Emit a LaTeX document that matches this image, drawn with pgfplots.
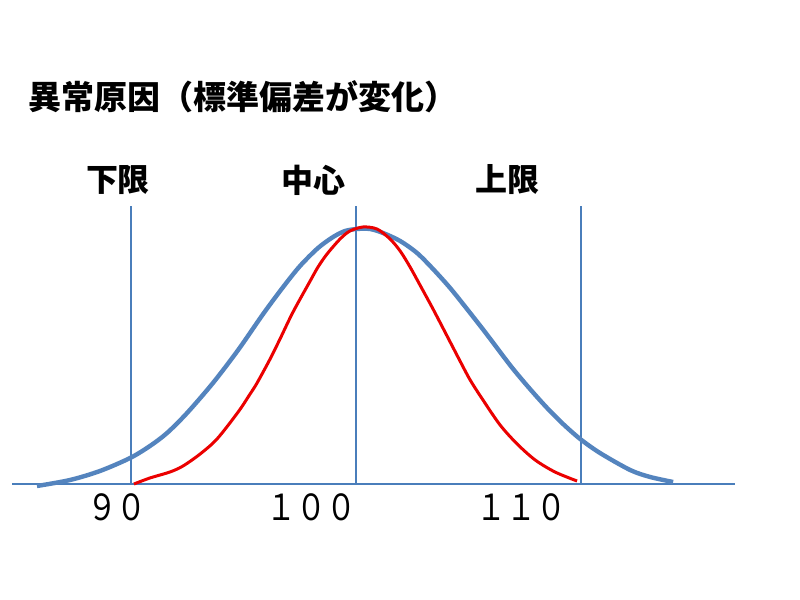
\documentclass[border=0pt]{standalone}
\usepackage{pgfplots}
\pgfplotsset{compat=1.18}
\usepackage{fontspec}
\newfontfamily\cjk{Noto Sans CJK JP}
\definecolor{lineblue}{RGB}{74,126,187}
\definecolor{curveblue}{RGB}{84,132,190}
\definecolor{curvered}{RGB}{235,0,0}
\begin{document}
\begin{tikzpicture}
\path[fill=white] (0,0) rectangle (400pt,300pt);
\begin{axis}[
  at={(6pt,58pt)}, anchor=south west,
  scale only axis, width=361.5pt, height=139pt,
  xmin=84.71, xmax=116.84, ymin=0, ymax=278,
  axis x line*=bottom, axis y line=none,
  x axis line style={color=lineblue, line width=1pt, -},
  xtick=\empty, ytick=\empty,
  clip=false,
]
\addplot[lineblue, line width=1pt] coordinates {(90,0) (90,278)};
\addplot[lineblue, line width=1pt] coordinates {(100,0) (100,278)};
\addplot[lineblue, line width=1pt] coordinates {(110,0) (110,278)};
\addplot[curveblue, line width=2.2pt, smooth] coordinates {
(85.82,-2) (87.29,4) (88.62,13) (89.96,26) (90.84,38) (91.60,51) (92.49,71)
(93.64,101) (94.76,134) (95.87,170) (96.76,197) (97.51,218) (98.31,236)
(98.98,247) (99.51,253) (100.04,255) (100.62,255) (101.2,251) (101.96,243)
(102.71,231) (103.42,215) (104.18,196) (104.93,175) (105.73,152) (106.4,132)
(106.98,115) (107.73,95) (108.49,76) (109.2,60) (109.96,45) (110.84,31)
(112.18,14) (113.07,7) (114.09,2)
};
\addplot[curvered, line width=1.5pt, smooth] coordinates {
(90.13,0) (90.84,6) (91.73,12) (92.31,18) (93.07,30) (93.82,45) (94.76,72)
(95.29,90) (95.6,101) (96.18,125) (96.62,145) (97.2,172) (97.96,203)
(98.31,217) (98.71,230) (99.29,245) (99.73,253) (100.31,257) (100.93,255)
(101.51,245) (101.96,233) (102.4,217) (102.84,199) (103.42,175) (104.09,146)
(104.62,123) (105.07,104) (105.64,84) (106.4,59) (107.16,40) (107.96,24)
(108.84,12) (109.82,3)
};
\end{axis}
\node[anchor=west, inner sep=0pt] at (14pt,251.5pt) {\cjk\bfseries\fontsize{16.5}{18}\selectfont 異常原因（標準偏差が変化）};
\node[inner sep=0pt] at (59pt,210pt) {\cjk\bfseries\fontsize{16}{18}\selectfont 下限};
\node[inner sep=0pt] at (156.75pt,210pt) {\cjk\bfseries\fontsize{16}{18}\selectfont 中心};
\node[inner sep=0pt] at (253.5pt,210pt) {\cjk\bfseries\fontsize{16}{18}\selectfont 上限};
\node[inner sep=0pt] at (58.5pt,46.5pt) {\scalebox{1}[1.2]{\cjk\fontsize{15}{16}\selectfont ９０}};
\node[inner sep=0pt] at (155.5pt,46.5pt) {\scalebox{1}[1.2]{\cjk\fontsize{15}{16}\selectfont １００}};
\node[inner sep=0pt] at (260.5pt,46.5pt) {\scalebox{1}[1.2]{\cjk\fontsize{15}{16}\selectfont １１０}};
\end{tikzpicture}
\end{document}
